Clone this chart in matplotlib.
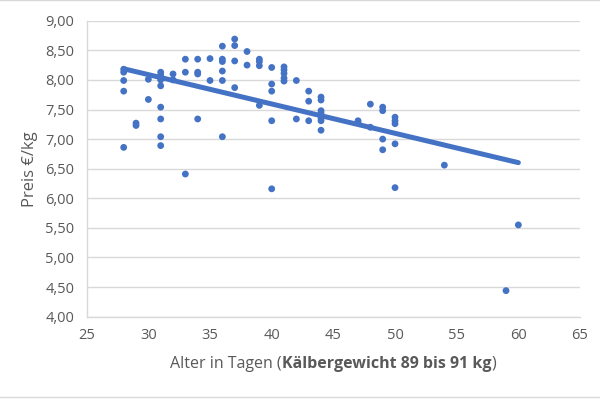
import matplotlib

matplotlib.use("Agg")

import matplotlib.pyplot as plt
import numpy as np

# age in days and price per kg
age_days = (
    [28] * 5 + [29] * 2 + [30] * 2 + [31] * 8 + [32] * 2 + [33] * 3 + [34] * 4
    + [35] * 2 + [36] * 6 + [37] * 4 + [38] * 2 + [39] * 4 + [40] * 5 + [41] * 5
    + [42] * 2 + [43] * 3 + [44] * 7 + [47] * 2 + [48] * 2 + [49] * 4 + [50] * 5
    + [54, 59, 60]
)
price = [
    8.18, 8.13, 7.99, 7.81, 6.86,            # 28
    7.27, 7.23,                              # 29
    8.01, 7.67,                              # 30
    8.13, 8.08, 8.00, 7.90, 7.54, 7.34, 7.04, 6.89,  # 31
    8.10, 8.00,                              # 32
    8.35, 8.13, 6.41,                        # 33
    8.35, 8.13, 8.10, 7.34,                  # 34
    8.36, 7.99,                              # 35
    8.57, 8.35, 8.31, 8.15, 7.99, 7.04,      # 36
    8.69, 8.58, 8.32, 7.87,                  # 37
    8.48, 8.25,                              # 38
    8.35, 8.31, 8.24, 7.57,                  # 39
    8.21, 7.93, 7.81, 7.31, 6.16,            # 40
    8.22, 8.17, 8.11, 8.03, 7.98,            # 41
    7.99, 7.34,                              # 42
    7.81, 7.64, 7.31,                        # 43
    7.71, 7.66, 7.48, 7.44, 7.35, 7.31, 7.15,  # 44
    7.31, 7.28,                              # 47
    7.59, 7.20,                              # 48
    7.54, 7.48, 7.00, 6.82,                  # 49
    7.37, 7.31, 7.26, 6.92, 6.18,            # 50
    6.56, 4.44, 5.55,                        # 54, 59, 60
]
x_ticks = [25, 30, 35, 40, 45, 50, 55, 60, 65]
y_ticks = [4.0, 4.5, 5.0, 5.5, 6.0, 6.5, 7.0, 7.5, 8.0, 8.5, 9.0]

BLUE = "#4472C4"
GREY_TXT = "#595959"
GRID = "#D9D9D9"
FONT = "Open Sans"

plt.rcParams["font.family"] = [FONT, "DejaVu Sans"]

fig = plt.figure(figsize=(6.0, 3.99), dpi=100, facecolor="white")
ax = fig.add_axes([0.1445, 0.2063, 0.8222, 0.7418])

x = np.array(age_days, dtype=float)
y = np.array(price)
ax.scatter(x, y, s=24, color=BLUE, edgecolors="none", zorder=3)

# linear trend line (least squares over the data)
slope, icpt = np.polyfit(x, y, 1)
xl = np.array([x.min(), x.max()])
ax.plot(xl, slope * xl + icpt, color=BLUE, lw=3.6, solid_capstyle="round",
        zorder=4)

ax.set_xlim(25, 65)
ax.set_ylim(4.0, 9.0)
ax.set_xticks(x_ticks)
ax.set_yticks(y_ticks)
ax.set_xticklabels([str(v) for v in x_ticks])
ax.set_yticklabels([f"{v:.2f}".replace(".", ",") for v in y_ticks])
ax.tick_params(length=0, labelsize=10.5, colors=GREY_TXT, pad=9)
ax.tick_params(axis="x", pad=8)
ax.grid(axis="y", color=GRID, lw=1.0)
ax.set_axisbelow(True)
for side in ("top", "right"):
    ax.spines[side].set_visible(False)
ax.spines["left"].set_color(GRID)
ax.spines["bottom"].set_color(GRID)
ax.spines["left"].set_linewidth(1.0)
ax.spines["bottom"].set_linewidth(1.0)

ax.set_ylabel("Preis €/kg", fontsize=12, color=GREY_TXT, labelpad=5)

# x label: normal + bold + normal pieces, centred together under the axes
pieces = [("Alter in Tagen (", "normal"),
          ("Kälbergewicht 89 bis 91 kg", "bold"),
          (")", "normal")]
texts = [fig.text(0, 0.078, s, fontsize=11.5, fontweight=w, color=GREY_TXT,
                  va="baseline", ha="left") for s, w in pieces]
fig.canvas.draw()
rend = fig.canvas.get_renderer()
widths = [t.get_window_extent(rend).width / fig.bbox.width for t in texts]
cx = 0.1445 + 0.8222 / 2
x0 = cx - sum(widths) / 2
for t, w in zip(texts, widths):
    t.set_x(x0)
    x0 += w

# light frame lines at top and bottom of the chart area
fig.add_artist(plt.Line2D([0, 1], [0.999, 0.999], color=GRID, lw=1.0,
                          transform=fig.transFigure))
fig.add_artist(plt.Line2D([0, 1], [0.006, 0.006], color=GRID, lw=1.0,
                          transform=fig.transFigure))

fig.savefig("out.png", dpi=100, facecolor="white")
